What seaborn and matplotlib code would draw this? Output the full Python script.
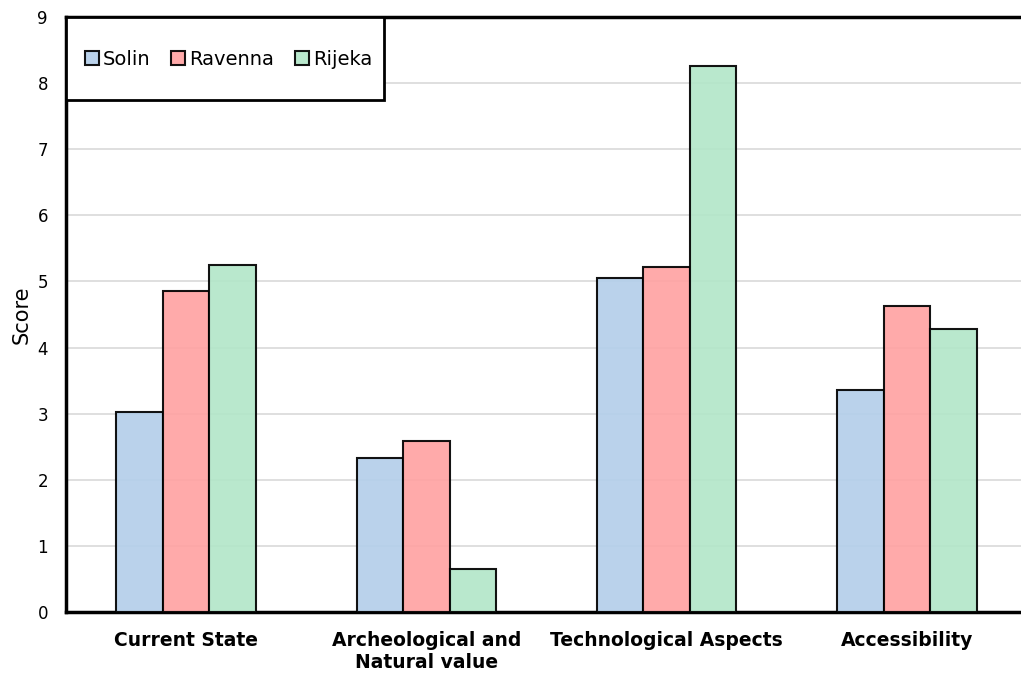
import matplotlib
matplotlib.use("Agg")
import matplotlib.pyplot as plt
from matplotlib.patches import Rectangle
import seaborn as sns
import pandas as pd

categories = ["Current State", "Archeological and\nNatural value", "Technological Aspects", "Accessibility"]
cities = ["Solin", "Ravenna", "Rijeka"]
solin = [3.03, 2.33, 5.05, 3.36]
ravenna = [4.86, 2.59, 5.22, 4.63]
rijeka = [5.25, 0.65, 8.26, 4.28]
palette = ["#b4cfea", "#ffa3a3", "#b3e6c9"]

rows = []
for city, vals in zip(cities, [solin, ravenna, rijeka]):
    for cat, v in zip(categories, vals):
        rows.append({"Category": cat, "City": city, "Score": v})
df = pd.DataFrame(rows)

sns.set_style("white")
plt.rcParams["font.family"] = ["DejaVu Sans"]
plt.rcParams["text.color"] = "black"
plt.rcParams["axes.labelcolor"] = "black"
plt.rcParams["xtick.color"] = "black"
plt.rcParams["ytick.color"] = "black"

fig = plt.figure(figsize=(10.21, 6.75), dpi=100)
ax = fig.add_axes([0.0646, 0.0933, 0.9414, 0.8815])

sns.barplot(data=df, x="Category", y="Score", hue="City", hue_order=cities,
            palette=palette, width=0.58, edgecolor="black", linewidth=1.5,
            saturation=1, alpha=0.92, ax=ax, zorder=3)

ax.set_ylim(0, 9)
ax.set_xlim(-0.5, 3.5)
ax.set_yticks(range(0, 10))
ax.yaxis.grid(True, color="#d6d6d6", linewidth=1.1, zorder=0)
ax.set_axisbelow(True)
ax.tick_params(axis="y", length=0, labelsize=12, pad=13, labelcolor="black")
ax.tick_params(axis="x", length=0, labelsize=13.5, pad=14, labelcolor="black")
for lbl in ax.get_xticklabels():
    lbl.set_fontweight("bold")
ax.set_xlabel("")
ax.set_ylabel("Score", fontsize=15, labelpad=4, color="black")

for side in ["left", "bottom", "top"]:
    ax.spines[side].set_visible(True)
    ax.spines[side].set_color("black")
    ax.spines[side].set_linewidth(2.5)
ax.spines["right"].set_visible(False)

# legend box anchored to the top-left corner of the axes
box_w, box_h = 318 / 961, 83 / 595
ax.add_patch(Rectangle((0, 1 - box_h), box_w, box_h, transform=ax.transAxes,
                       facecolor="white", edgecolor="black", linewidth=2,
                       zorder=5, clip_on=False))
leg = ax.legend(loc="center left", ncol=3, frameon=False,
                bbox_to_anchor=(19 / 961, 1 - 42 / 595),
                borderaxespad=0, borderpad=0, fontsize=14, handlelength=0.7,
                handleheight=0.7, handletextpad=0.2, columnspacing=1.1)
leg.set_zorder(6)
for t in leg.get_texts():
    t.set_color("black")
for h in leg.legend_handles:
    h.set_edgecolor("black")
    h.set_linewidth(1.5)

fig.savefig("out.png", dpi=100)
